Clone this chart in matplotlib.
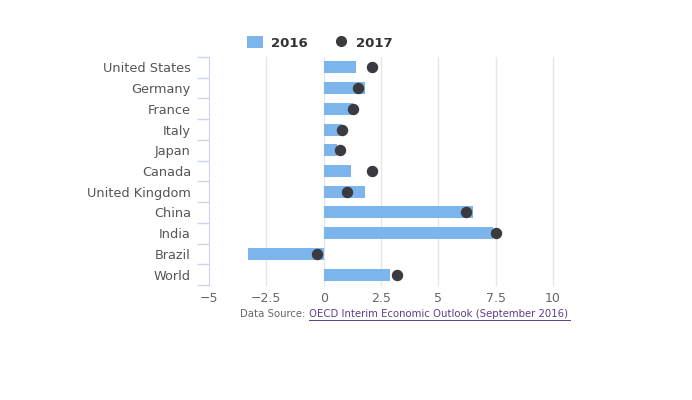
import matplotlib
matplotlib.use("Agg")
import matplotlib.pyplot as plt
from matplotlib.lines import Line2D
from matplotlib.patches import Patch
import numpy as np

categories = ["United States", "Germany", "France", "Italy", "Japan", "Canada",
              "United Kingdom", "China", "India", "Brazil", "World"]
values_2016 = [1.4, 1.8, 1.3, 0.8, 0.6, 1.2, 1.8, 6.5, 7.4, -3.3, 2.9]
values_2017 = [2.1, 1.5, 1.3, 0.8, 0.7, 2.1, 1.0, 6.2, 7.5, -0.3, 3.2]
xticks = [-5, -2.5, 0, 2.5, 5, 7.5, 10]
xtick_labels = ["\u22125", "\u22122.5", "0", "2.5", "5", "7.5", "10"]

plt.rcParams['font.family'] = ['DejaVu Sans']

fig = plt.figure(figsize=(6.92, 4.0), dpi=100)
ax = fig.add_axes([209/692, 1-285/400, (553-209)/692, (285-57)/400])

y = np.arange(len(categories))
ax.barh(y, values_2016, height=0.58, color="#7cb5ec", zorder=2)
ax.scatter(values_2017, y, s=52, color="#3a3a3f", zorder=3, clip_on=False)

ax.set_xlim(-5, 10)
ax.set_ylim(len(categories) - 0.5, -0.5)

ax.set_xticks(xticks)
ax.set_xticklabels(xtick_labels, color="#666666", fontsize=9)
ax.tick_params(axis='x', length=0, pad=5)
for xv in xticks[1:]:
    ax.axvline(xv, color="#e6e6e6", lw=1, zorder=1, clip_on=False)

ax.set_yticks(y)
ax.set_yticklabels(categories, color="#555555", fontsize=9.3)
ax.tick_params(axis='y', which='major', length=0, pad=13)
ax.set_yticks(np.arange(len(categories) + 1) - 0.5, minor=True)
ax.tick_params(axis='y', which='minor', length=9, color="#ccd6eb", width=1)

for s in ["top", "right", "bottom"]:
    ax.spines[s].set_visible(False)
ax.spines["left"].set_color("#ccd6eb")

handles = [Patch(facecolor="#7cb5ec", edgecolor="none"),
           Line2D([], [], marker='o', ls='none', color="#3a3a3f", markersize=7)]
leg = fig.legend(handles, ["2016", "2017"], loc="center", bbox_to_anchor=(320/692, 1-43/400),
                 ncol=2, frameon=False, prop={'weight': 'bold', 'size': 9.5},
                 handlelength=1.2, handleheight=1.0, columnspacing=1.9, handletextpad=0.6)
for t in leg.get_texts():
    t.set_color("#333333")

fig.text(309/692, 1-314/400, "Data Source: ", ha="right", va="center", fontsize=7.3, color="#666666")
fig.text(309/692, 1-314/400, "OECD Interim Economic Outlook (September 2016)",
         ha="left", va="center", fontsize=7.3, color="#5c3d8a")
fig.add_artist(Line2D([309/692, 570/692], [1-319.5/400, 1-319.5/400], color="#5c3d8a", lw=0.7))

fig.savefig("out.png", dpi=100)
